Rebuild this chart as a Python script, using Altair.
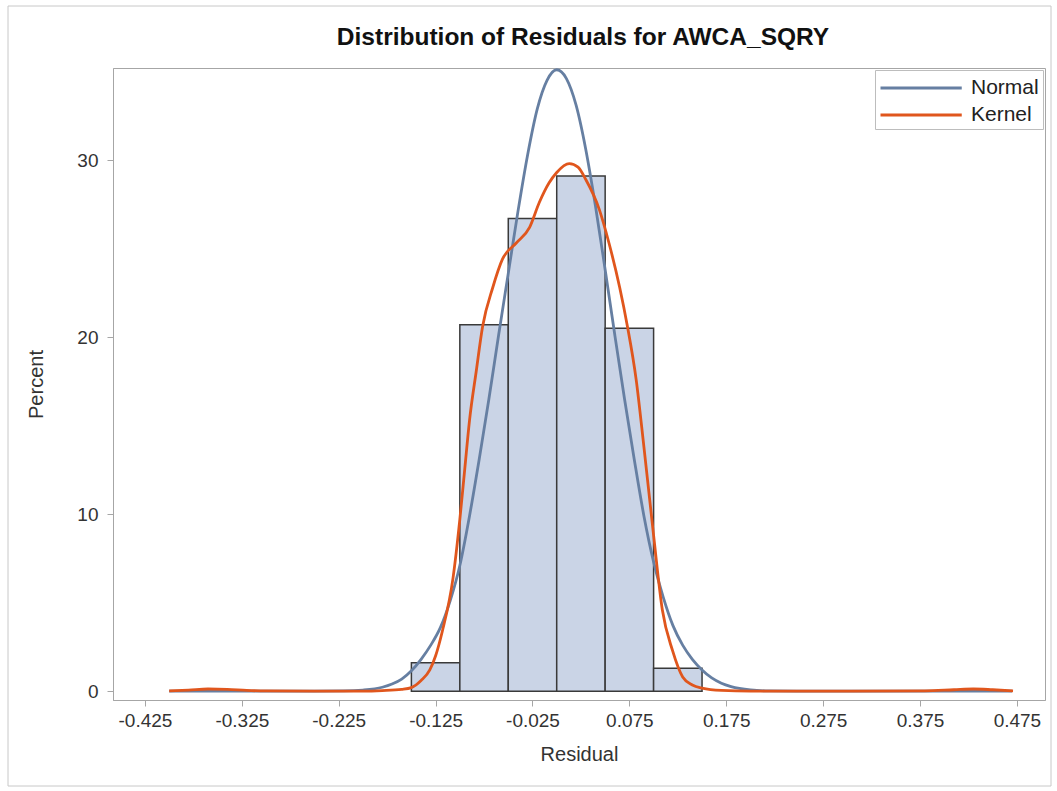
import altair as alt
import pandas as pd

# Histogram bins (residual ranges) and their share of observations, in percent
bin_lo = [-0.15, -0.10, -0.05, 0.00, 0.05, 0.10]
bin_hi = [-0.10, -0.05, 0.00, 0.05, 0.10, 0.15]
bin_pct = [1.6, 20.7, 26.7, 29.1, 20.5, 1.3]

# Fitted normal density, scaled to percent per bin
normal_x = [-0.40, -0.30, -0.25, -0.22, -0.20, -0.18, -0.17, -0.16, -0.15, -0.14,
            -0.13, -0.12, -0.11, -0.10, -0.09, -0.08, -0.07, -0.06, -0.05, -0.04,
            -0.03, -0.02, -0.01, 0.00, 0.01, 0.02, 0.03, 0.04, 0.05, 0.06,
            0.07, 0.08, 0.09, 0.10, 0.11, 0.12, 0.13, 0.14, 0.15, 0.16,
            0.17, 0.18, 0.20, 0.22, 0.25, 0.30, 0.40, 0.47]
normal_y = [0.0, 0.0, 0.0, 0.01, 0.06, 0.22, 0.40, 0.68, 1.15, 1.8,
            2.6, 3.6, 5.1, 7.1, 9.9, 13.1, 16.5, 20.1, 23.6, 27.1,
            30.3, 32.9, 34.5, 35.1, 34.6, 33.1, 30.6, 27.4, 23.8, 20.1,
            16.5, 13.1, 9.9, 7.3, 5.3, 3.7, 2.6, 1.8, 1.2, 0.75,
            0.45, 0.26, 0.07, 0.01, 0.0, 0.0, 0.0, 0.0]

# Kernel density estimate, scaled to percent per bin
kernel_x = [-0.40, -0.38, -0.36, -0.34, -0.32, -0.30, -0.25, -0.20, -0.18, -0.16,
            -0.15, -0.14, -0.131, -0.125, -0.118, -0.107, -0.100, -0.095, -0.090, -0.083,
            -0.0765, -0.066, -0.056, -0.042, -0.028, -0.018, -0.008, 0.0, 0.013, 0.022,
            0.030, 0.044, 0.054, 0.065, 0.073, 0.082, 0.090, 0.100, 0.109, 0.1195,
            0.130, 0.140, 0.150, 0.170, 0.200, 0.300, 0.380, 0.410, 0.430, 0.450, 0.471]
kernel_y = [0.02, 0.06, 0.12, 0.10, 0.04, 0.01, 0.0, 0.0, 0.03, 0.1,
            0.2, 0.6, 1.2, 2.0, 3.4, 6.4, 9.7, 12.5, 15.3, 18.1,
            20.6, 22.8, 24.4, 25.3, 26.2, 27.6, 28.7, 29.3, 29.8, 29.6,
            28.9, 27.2, 25.3, 22.8, 20.6, 17.6, 13.8, 8.8, 4.6, 2.3,
            0.8, 0.35, 0.17, 0.04, 0.0, 0.0, 0.02, 0.08, 0.12, 0.08, 0.02]

x_ticks = [-0.425, -0.325, -0.225, -0.125, -0.025, 0.075, 0.175, 0.275, 0.375, 0.475]
y_ticks = [0, 10, 20, 30]

bars = pd.DataFrame({"lo": bin_lo, "hi": bin_hi, "pct": bin_pct})
normal = pd.DataFrame({"x": normal_x, "y": normal_y, "curve": "Normal"})
kernel = pd.DataFrame({"x": kernel_x, "y": kernel_y, "curve": "Kernel"})

FONT = "Liberation Sans"
x_scale = alt.Scale(domain=[-0.458, 0.504], nice=False, zero=False)
y_scale = alt.Scale(domain=[-0.5, 35.2], nice=False, zero=False)
x_axis = alt.Axis(values=x_ticks, title="Residual", grid=False,
                  labelExpr="replace(format(datum.value, '.3f'), '\u2212', '-')")
y_axis = alt.Axis(values=y_ticks, title="Percent", grid=False, format="d")

color = alt.Color(
    "curve:N",
    scale=alt.Scale(domain=["Normal", "Kernel"], range=["#667FA2", "#E0561D"]),
    legend=alt.Legend(
        title=None, orient="top-right", offset=2,
        symbolType="M-1,0H5.5", symbolSize=625, symbolStrokeWidth=3,
        labelFont=FONT, labelFontSize=21, labelColor="#222222", labelOffset=64,
        strokeColor="#BDBDBD", fillColor="white", padding=4, rowPadding=3,
    ),
)

hist = alt.Chart(bars).mark_bar(
    fill="#CAD4E6", stroke="#3A3A3A", strokeWidth=1.5
).encode(
    x=alt.X("lo:Q", scale=x_scale, axis=x_axis),
    x2="hi:Q",
    y=alt.Y("pct:Q", scale=y_scale, axis=y_axis),
    y2=alt.datum(0),
)

def curve_layer(df):
    return alt.Chart(df).mark_line(strokeWidth=2.8, interpolate="monotone").encode(
        x=alt.X("x:Q", scale=x_scale, axis=x_axis),
        y=alt.Y("y:Q", scale=y_scale, axis=y_axis),
        color=color,
    )

# Light border around the whole graph
border = alt.Chart(pd.DataFrame({"k": [0]})).mark_rect(
    fill="transparent", stroke="#C8C8C8", strokeWidth=1
).encode(
    x=alt.value(-105), x2=alt.value(938), y=alt.value(-62), y2=alt.value(718)
)

chart = alt.layer(border, hist, curve_layer(normal), curve_layer(kernel)).properties(
    width=932,
    height=632,
    autosize=alt.AutoSizeParams(type="none"),
    padding={"left": 113, "top": 68, "right": 12, "bottom": 91},
    title=alt.Title("Distribution of Residuals for AWCA_SQRY", anchor="middle",
                    frame="group", offset=18, dx=4, dy=63),
).configure_view(
    stroke="#A6A6A6", strokeWidth=1
).configure_axis(
    labelFont=FONT, labelFontSize=19, labelColor="#333333",
    titleFont=FONT, titleFontSize=20, titleColor="#333333", titleFontWeight="normal",
    tickColor="#A6A6A6", domainColor="#A6A6A6", tickSize=6,
).configure_axisX(
    labelPadding=5, titlePadding=14,
).configure_axisY(
    labelPadding=9, titlePadding=30,
).configure_title(
    font=FONT, fontSize=24.5, fontWeight="bold", color="#111111",
)

chart.save("out.html", embed_options={"renderer": "svg", "actions": False})
